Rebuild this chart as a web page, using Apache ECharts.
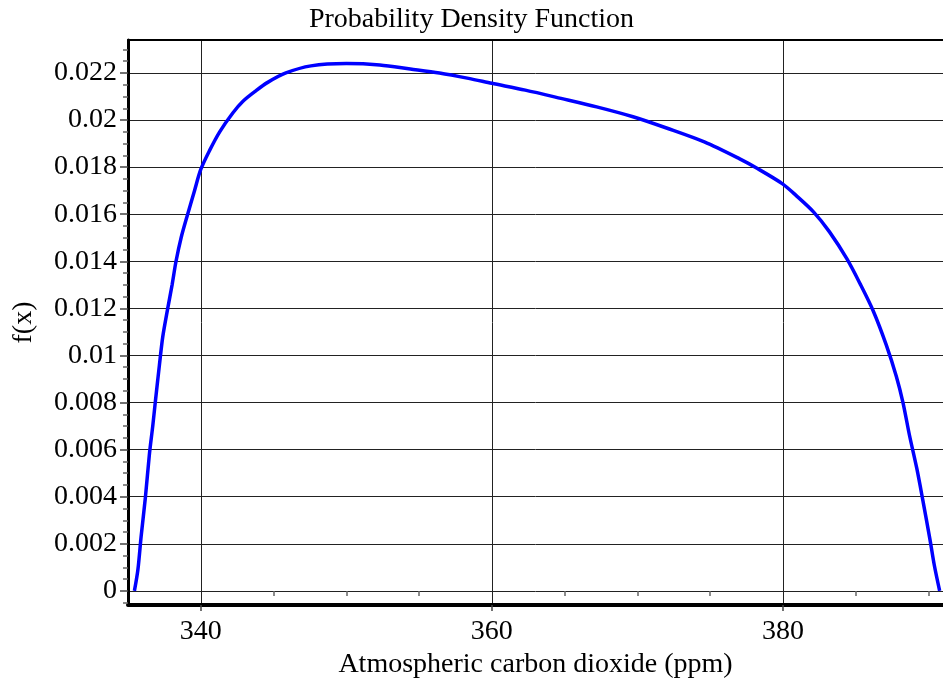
<!DOCTYPE html>
<html>
<head>
<meta charset="utf-8">
<script src="https://cdn.jsdelivr.net/npm/echarts@6/dist/echarts.min.js"></script>
<style>
  html, body { margin: 0; padding: 0; background: #ffffff; }
  #chart { width: 943px; height: 678px; }
</style>
</head>
<body>
<div id="chart"></div>
<script>
// ---- data ----
const xValues = [335.44, 335.68, 335.9, 336.2, 336.47, 336.7, 336.89, 337.16, 337.39, 337.73,
  338.03, 338.3, 338.65, 339.1, 339.57, 340.0, 340.6, 341.3, 342.2, 342.9,
  343.8, 344.6, 345.85, 347.57, 350.0, 352.3, 354.4, 356.4, 358.4, 360.0,
  362.3, 364.75, 367.2, 369.7, 372.1, 374.6, 377.0, 378.25, 379.95, 380.9,
  382.1, 383.2, 384.4, 385.3, 386.2, 387.1, 387.8, 388.25, 388.7, 389.2,
  389.6, 390.1, 390.4, 390.77];
const densityValues = [0, 0.0009, 0.0023, 0.0040, 0.0058, 0.0070, 0.0081, 0.0096, 0.0108, 0.0120,
  0.0130, 0.0140, 0.0150, 0.0160, 0.0170, 0.0179, 0.0187, 0.0195, 0.0203, 0.0208,
  0.02125, 0.0216, 0.0220, 0.0223, 0.0224, 0.02234, 0.02217, 0.0220, 0.02177, 0.02156,
  0.02127, 0.02092, 0.02056, 0.02014, 0.01964, 0.01907, 0.01836, 0.01794, 0.0173, 0.0168,
  0.0161, 0.01525, 0.0141, 0.01305, 0.0119, 0.01045, 0.0091, 0.0080, 0.0066, 0.0052,
  0.0039, 0.0022, 0.0011, 0];
const xMajorTicks = [340, 360, 380];
const xMinorTicks = [345, 350, 355, 365, 370, 375, 385, 390];
const yMajorTicks = [0, 0.002, 0.004, 0.006, 0.008, 0.01, 0.012, 0.014, 0.016, 0.018, 0.02, 0.022];
const yMinorTicks = [-0.0005, 0.0005, 0.001, 0.0015, 0.0025, 0.003, 0.0035, 0.0045, 0.005, 0.0055,
  0.0065, 0.007, 0.0075, 0.0085, 0.009, 0.0095, 0.0105, 0.011, 0.0115, 0.0125, 0.013, 0.0135,
  0.0145, 0.015, 0.0155, 0.0165, 0.017, 0.0175, 0.0185, 0.019, 0.0195, 0.0205, 0.021, 0.0215,
  0.0225, 0.023];
const titleText = 'Probability Density Function';
const xName = 'Atmospheric carbon dioxide (ppm)';
const yName = 'f(x)';
const xRange = [335, 391];
const yRange = [-0.0006, 0.0234];

const FONT = "'Liberation Serif', 'Times New Roman', serif";
const chart = echarts.init(document.getElementById('chart'), null, { renderer: 'canvas' });

const seriesData = xValues.map((x, i) => [x, densityValues[i]]);

chart.setOption({
  animation: false,
  backgroundColor: '#ffffff',
  title: {
    text: titleText,
    left: 'center',
    top: 1,
    textStyle: { fontFamily: FONT, fontWeight: 'normal', fontSize: 28, color: '#000' }
  },
  grid: { left: 128, right: 0, top: 40, bottom: 73, containLabel: false, outerBoundsMode: 'none' },
  xAxis: [
    {
      type: 'value', min: xRange[0], max: xRange[1], position: 'bottom',
      name: xName, nameLocation: 'middle', nameGap: 40,
      nameTextStyle: { fontFamily: FONT, fontSize: 28, color: '#000' },
      axisLine: { show: true, onZero: false, lineStyle: { color: '#000', width: 4 } },
      axisTick: { show: true, customValues: xMajorTicks, length: 6, lineStyle: { color: '#444', width: 1.5 } },
      axisLabel: { show: true, customValues: xMajorTicks, margin: 13,
        fontFamily: FONT, fontSize: 28, color: '#000' },
      splitLine: { show: true, lineStyle: { color: '#222', width: 1 } }
    },
    {
      type: 'value', min: xRange[0], max: xRange[1], position: 'bottom', offset: 0,
      axisLine: { show: false },
      axisTick: { show: true, customValues: xMinorTicks, length: 5, lineStyle: { color: '#666', width: 1.5 } },
      axisLabel: { show: false },
      splitLine: { show: false }
    },
    {
      type: 'value', min: xRange[0], max: xRange[1], position: 'top', offset: 0,
      axisLine: { show: true, onZero: false, lineStyle: { color: '#000', width: 2 } },
      axisTick: { show: false },
      axisLabel: { show: false },
      splitLine: { show: false }
    }
  ],
  yAxis: [
    {
      type: 'value', min: yRange[0], max: yRange[1], position: 'left',
      name: yName, nameLocation: 'middle', nameGap: 90, nameRotate: 90,
      nameTextStyle: { fontFamily: FONT, fontSize: 28, color: '#000' },
      axisLine: { show: true, onZero: false, lineStyle: { color: '#000', width: 3 } },
      axisTick: { show: true, customValues: yMajorTicks, length: 8, lineStyle: { color: '#444', width: 1.5 } },
      axisLabel: { show: true, customValues: yMajorTicks, margin: 11,
        fontFamily: FONT, fontSize: 28, color: '#000',
        formatter: v => String(parseFloat(Number(v).toFixed(4))) },
      splitLine: { show: true, lineStyle: { color: '#222', width: 1 } }
    },
    {
      type: 'value', min: yRange[0], max: yRange[1], position: 'left', offset: 0,
      axisLine: { show: false },
      axisTick: { show: true, customValues: yMinorTicks, length: 5, lineStyle: { color: '#666', width: 1.5 } },
      axisLabel: { show: false },
      splitLine: { show: false }
    }
  ],
  series: [
    {
      type: 'line',
      xAxisIndex: 0, yAxisIndex: 0,
      data: seriesData,
      showSymbol: false,
      smooth: 0.3,
      lineStyle: { color: '#0000ff', width: 3.5 },
      itemStyle: { color: '#0000ff' },
      z: 5
    }
  ]
});
</script>
</body>
</html>
